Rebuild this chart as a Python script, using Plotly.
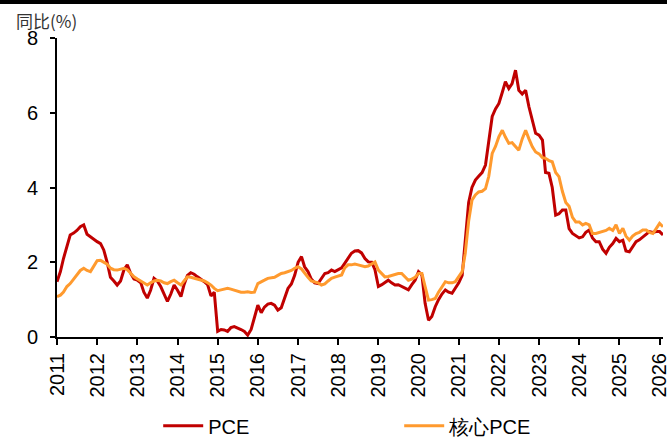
import pandas as pd
import plotly.graph_objects as go

# Monthly YoY (%), Jan 2011 .. Feb 2026
pce = [
    1.48, 1.75, 2.10, 2.45, 2.73, 2.78, 2.85, 2.95, 3.00, 2.75, 2.68, 2.60,
    2.55, 2.50, 2.33, 2.00, 1.60, 1.50, 1.39, 1.50, 1.80, 1.93, 1.70, 1.55,
    1.52, 1.45, 1.20, 1.04, 1.25, 1.57, 1.50, 1.35, 1.15, 0.95, 1.15, 1.39,
    1.25, 1.08, 1.40, 1.65, 1.72, 1.68, 1.61, 1.55, 1.48, 1.40, 1.10, 1.20,
    0.15, 0.20, 0.19, 0.15, 0.25, 0.28, 0.25, 0.20, 0.15, 0.05, 0.20, 0.50,
    0.85, 0.65, 0.80, 0.88, 0.90, 0.85, 0.72, 0.78, 1.05, 1.30, 1.42, 1.65,
    2.00, 2.15, 1.88, 1.75, 1.55, 1.45, 1.43, 1.55, 1.70, 1.72, 1.79, 1.75,
    1.79, 1.85, 1.97, 2.10, 2.24, 2.30, 2.31, 2.25, 2.10, 2.01, 2.00, 1.80,
    1.35, 1.40, 1.45, 1.52, 1.45, 1.39, 1.40, 1.35, 1.30, 1.26, 1.40, 1.52,
    1.75, 1.66, 0.90, 0.45, 0.55, 0.81, 1.00, 1.15, 1.26, 1.20, 1.17, 1.30,
    1.45, 1.65, 2.50, 3.60, 4.00, 4.20, 4.30, 4.40, 4.60, 5.20, 5.90, 6.10,
    6.25, 6.55, 6.83, 6.65, 6.78, 7.14, 6.60, 6.50, 6.60, 6.16, 5.80, 5.45,
    5.40, 5.27, 4.40, 4.38, 4.00, 3.26, 3.30, 3.40, 3.40, 2.90, 2.77, 2.70,
    2.65, 2.68, 2.80, 2.86, 2.65, 2.55, 2.55, 2.35, 2.24, 2.40, 2.50, 2.64,
    2.55, 2.59, 2.30, 2.28, 2.40, 2.55, 2.60, 2.68, 2.75, 2.82, 2.80, 2.82,
    2.82, 2.73,
]
core_pce = [
    1.08, 1.12, 1.20, 1.35, 1.43, 1.55, 1.68, 1.78, 1.84, 1.78, 1.75, 1.88,
    2.04, 2.05, 2.01, 1.95, 1.84, 1.80, 1.79, 1.82, 1.84, 1.80, 1.70, 1.61,
    1.55, 1.50, 1.45, 1.39, 1.45, 1.50, 1.52, 1.50, 1.45, 1.43, 1.48, 1.52,
    1.45, 1.39, 1.50, 1.61, 1.60, 1.58, 1.55, 1.52, 1.50, 1.45, 1.39, 1.30,
    1.24, 1.26, 1.28, 1.30, 1.28, 1.25, 1.21, 1.20, 1.20, 1.21, 1.19, 1.20,
    1.43, 1.47, 1.52, 1.57, 1.58, 1.60, 1.65, 1.70, 1.72, 1.75, 1.78, 1.84,
    1.88, 1.82, 1.70, 1.60, 1.50, 1.48, 1.45, 1.39, 1.42, 1.50, 1.57, 1.60,
    1.63, 1.66, 1.85, 1.93, 1.93, 1.95, 1.93, 1.90, 1.88, 1.90, 1.95, 2.01,
    1.79, 1.70, 1.61, 1.62, 1.65, 1.68, 1.70, 1.70, 1.60, 1.52, 1.55, 1.60,
    1.70, 1.70, 1.35, 0.99, 1.00, 1.03, 1.20, 1.35, 1.48, 1.45, 1.45, 1.48,
    1.60, 1.75, 2.24, 3.10, 3.66, 3.80, 3.88, 3.90, 3.97, 4.30, 4.91, 5.10,
    5.36, 5.53, 5.35, 5.18, 5.20, 5.10, 5.00, 5.30, 5.53, 5.30, 5.09, 4.95,
    4.90, 4.80, 4.78, 4.72, 4.69, 4.40, 4.29, 3.90, 3.60, 3.50, 3.20, 3.08,
    3.08, 3.00, 3.04, 3.00, 2.77, 2.77, 2.80, 2.82, 2.85, 2.91, 2.85, 3.00,
    2.77, 2.91, 2.70, 2.59, 2.70, 2.77, 2.80, 2.86, 2.86, 2.80, 2.77, 2.90,
    3.04, 2.95,
]
years = [str(y) for y in range(2011, 2027)]
series_names = ["PCE", "核心PCE"]

dates = pd.date_range("2011-01-01", periods=len(pce), freq="MS")

FONT = "Liberation Sans, Arial, sans-serif"

fig = go.Figure()
fig.add_trace(go.Scatter(x=dates, y=pce, mode="lines", name=series_names[0],
                         line=dict(color="#C00000", width=3)))
fig.add_trace(go.Scatter(x=dates, y=core_pce, mode="lines", name=series_names[1],
                         line=dict(color="#FF9A2E", width=3)))

fig.update_layout(
    width=667, height=439,
    margin=dict(l=57, r=4, t=38, b=102, autoexpand=False),
    paper_bgcolor="white", plot_bgcolor="white",
    font=dict(family=FONT, size=20, color="#000000"),
    showlegend=True,
    legend=dict(orientation="h", x=0.167, xanchor="left",
                yref="container", y=0.03, yanchor="middle",
                font=dict(size=20, color="#000000"),
                entrywidth=186, entrywidthmode="pixels",
                itemwidth=40, bgcolor="rgba(0,0,0,0)"),
    xaxis=dict(
        type="date",
        range=["2011-01-01", "2026-02-01"],
        tickmode="array",
        tickvals=[f"{y}-01-01" for y in years],
        ticktext=years,
        tickangle=-90,
        ticks="outside", ticklen=6, tickwidth=2, tickcolor="black",
        showline=True, linecolor="black", linewidth=2,
        showgrid=False, zeroline=False, automargin=False,
        ticklabeloverflow="allow",
        tickfont=dict(size=20, color="#000000"),
    ),
    yaxis=dict(
        range=[0, 8], dtick=2, tick0=0,
        ticks="outside", ticklen=5, tickwidth=2, tickcolor="black",
        showline=True, linecolor="black", linewidth=2,
        showgrid=False, zeroline=False, automargin=False,
        tickfont=dict(size=20, color="#000000"),
        ticklabelstandoff=8,
    ),
    shapes=[dict(type="line", xref="paper", yref="paper",
                 x0=-0.2, x1=1.1, y0=1.122, y1=1.122,
                 line=dict(color="black", width=5))],
    annotations=[dict(text="同比(%)", xref="paper", yref="paper",
                      x=-0.071, y=1.06, xanchor="left", yanchor="middle",
                      showarrow=False,
                      font=dict(size=17, color="#333333",
                                family="Noto Sans CJK SC, Liberation Sans, sans-serif"))],
)

fig.write_html(
    "out.html",
    config={"displayModeBar": False},
    post_script="document.body.style.margin='0';document.body.style.overflow='hidden';",
)
